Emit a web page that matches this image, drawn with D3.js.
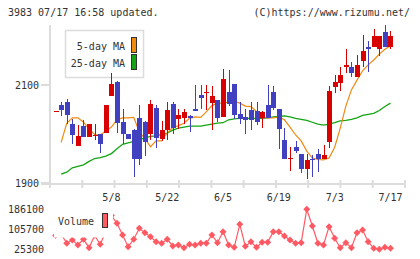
<!DOCTYPE html>
<html>
<head>
<meta charset="utf-8">
<script src="https://cdn.jsdelivr.net/npm/d3@7"></script>
<style>
  body { margin: 0; background: #fff; }
  text { font-family: "DejaVu Sans Mono", monospace; font-size: 10px; fill: #333; }
</style>
</head>
<body>
<div id="chart"></div>
<script>
// Trading days shown (2015)
const dates = ["4/20","4/21","4/22","4/23","4/24","4/27","4/28","4/30","5/1","5/7",
  "5/8","5/11","5/12","5/13","5/14","5/15","5/18","5/19","5/20","5/21",
  "5/22","5/25","5/26","5/27","5/28","5/29","6/1","6/2","6/3","6/4",
  "6/5","6/8","6/9","6/10","6/11","6/12","6/15","6/16","6/17","6/18",
  "6/19","6/22","6/23","6/24","6/25","6/26","6/29","6/30","7/1","7/2",
  "7/3","7/6","7/7","7/8","7/9","7/10","7/13","7/14","7/15","7/16","7/17"];
const labelDates = ["5/8","5/22","6/5","6/19","7/3","7/17"];

const open  = [2047,2059,2065,2020,1976,2016,1993,1995,1999,2003,2078,2107,2024,1999,2008,2032,2025,2001,2054,1990,
  2008,2061,2030,2033,2037,2051,2080,2084,2064,2069,2035,2086,2102,2041,2035,2050,2047,2033,2059,2086,
  2051,1988,1950,1974,1959,1929,1949,1959,1949,1984,2095,2105,2136,2136,2117,2148,2177,2177,2173,2208,2177];
const high  = [2047,2066,2071,2030,2018,2029,2020,2020,1999,2059,2124,2108,2051,1999,2011,2059,2027,2069,2059,2027,
  2066,2066,2051,2052,2039,2100,2100,2099,2098,2069,2133,2131,2102,2065,2052,2065,2065,2046,2100,2098,
  2051,2013,1974,1986,1959,1959,1957,1969,1978,2098,2120,2136,2173,2146,2161,2202,2190,2214,2200,2222,2210];
const low   = [2047,2037,2020,1980,1976,1993,1993,1987,1962,2003,2078,2003,1980,1989,1912,1937,1956,1988,1972,1986,
  1988,2001,2010,2020,2005,2046,2051,2049,2008,2025,2035,2057,2030,2020,2000,2008,2018,2013,2033,2049,
  1969,1950,1925,1961,1921,1908,1912,1923,1949,1972,2084,2088,2124,2116,2117,2137,2126,2177,2159,2178,2173];
const close = [2047,2048,2039,1997,1996,1993,2020,1997,1980,2059,2103,2022,1999,1989,1950,1948,1984,2061,1991,2008,
  2049,2013,2039,2044,2033,2046,2074,2086,2078,2033,2112,2061,2039,2031,2029,2029,2025,2044,2033,2054,
  2010,1950,1952,1966,1929,1947,1946,1949,1957,2088,2107,2120,2141,2125,2141,2169,2173,2199,2200,2178,2199];

const ma5 = [null,1983,2022,2033,2033,2024,2010,1999,1998,2006,2014,2029,2033,2033,2034,2004,1991,1974,1986,1986,
  2002,2013,2017,2022,2032,2035,2034,2045,2058,2063,2063,2065,2067,2063,2057,2056,2046,2035,2033,2033,
  2035,2029,2014,1998,1986,1965,1951,1948,1947,1951,1973,2012,2057,2090,2110,2129,2141,2151,2163,2173,2180];
const ma25 = [null,1918,1922,1931,1934,1937,1944,1950,1952,1955,1960,1970,1979,1982,1985,1988,1992,1995,1996,1999,
  2002,2008,2012,2014,2016,2016,2016,2018,2020,2022,2023,2029,2031,2032,2032,2032,2032,2032,2033,2035,
  2036,2037,2035,2032,2030,2028,2024,2020,2018,2020,2023,2027,2028,2030,2033,2038,2040,2042,2048,2056,2063];

const volume = [80000,85000,48200,61500,41400,64300,30500,80000,44200,95000,160000,128600,81600,34600,64300,108500,90800,74800,54600,48200,
  64300,37400,41400,30500,44200,41400,48200,48200,81600,50600,94800,41400,32100,124600,36000,54600,32100,52200,52200,94800,
  94800,77600,61500,48200,50600,184900,117800,48200,41400,115000,68300,30500,50600,30500,90800,101700,54600,28100,24100,32100,28100];

const priceTicks = [1900, 2100];
const volumeTicks = [25300, 105700, 186100];

const W = 420, H = 259;
const svg = d3.select("#chart").append("svg")
  .attr("width", W).attr("height", H);

const idx = d3.range(dates.length);
const x = d3.scaleLinear().domain([-1, 62.6]).range([50, 405]);
const gridX = d3.scaleLinear().domain([0, 11]).range([50, 405]);
const y = d3.scaleLinear().domain([1900, 2100]).range([183, 85]);
const yv = d3.scaleLinear().domain([25300, 186100]).range([249, 209]);

const red = "#d90000", blue = "#4040c0";
const orange = "#f08a10", green = "#14a514", volColor = "#ff5a64";
const axisColor = "#dcdcdc";

// header
svg.append("text").attr("x", 8).attr("y", 16).text("3983 07/17 16:58 updated.");
svg.append("text").attr("x", 410).attr("y", 16).attr("text-anchor", "end").text("(C)https://www.rizumu.net/");

// price legend (behind the candles)
const lg = svg.append("g").attr("transform", "translate(65,30)");
lg.append("rect").attr("x", 0.5).attr("y", 0.5).attr("width", 78).attr("height", 47)
  .attr("fill", "#fff").attr("stroke", axisColor).attr("stroke-width", 1.5);
[["5-day MA", orange], ["25-day MA", green]].forEach(([name, c], i) => {
  lg.append("text").attr("x", 60).attr("y", 20 + i * 17).attr("text-anchor", "end").text(name);
  lg.append("rect").attr("x", 66.5).attr("y", 7.5 + i * 17).attr("width", 5).attr("height", 15)
    .attr("fill", c).attr("stroke", "#333").attr("stroke-width", 1);
});

// axes
const ax = svg.append("g").attr("stroke", axisColor).attr("stroke-width", 2);
ax.append("line").attr("x1", 50).attr("x2", 50).attr("y1", 25).attr("y2", 188);
ax.append("line").attr("x1", 41).attr("x2", 405).attr("y1", 184).attr("y2", 184);
ax.selectAll(".gt").data(d3.range(12)).enter().append("line")
  .attr("x1", d => gridX(d)).attr("x2", d => gridX(d)).attr("y1", 180).attr("y2", 188);
ax.selectAll(".yt").data(priceTicks).enter().append("line")
  .attr("x1", 41).attr("x2", 50).attr("y1", d => y(d)).attr("y2", d => y(d));

svg.selectAll(".ylab").data(priceTicks).enter().append("text")
  .attr("x", 39).attr("y", d => y(d) + 4).attr("text-anchor", "end").text(d => d);

svg.selectAll(".xlab").data(idx.filter(i => labelDates.includes(dates[i]))).enter().append("text")
  .attr("x", i => x(i)).attr("y", 201).attr("text-anchor", "middle").text(i => dates[i]);

// moving averages
const maLine = arr => d3.line()
  .defined(i => arr[i] != null)
  .x(i => x(i)).y(i => y(arr[i]))(idx);
svg.append("path").attr("d", maLine(ma25)).attr("fill", "none").attr("stroke", green).attr("stroke-width", 1.3);
svg.append("path").attr("d", maLine(ma5)).attr("fill", "none").attr("stroke", orange).attr("stroke-width", 1.2);

// candles
const cg = svg.append("g").attr("shape-rendering", "crispEdges");
const candle = cg.selectAll(".c").data(idx).enter().append("g");
candle.append("rect")
  .attr("x", i => Math.round(x(i)))
  .attr("width", 1)
  .attr("y", i => y(high[i]))
  .attr("height", i => Math.max(1, y(low[i]) - y(high[i])))
  .attr("fill", i => close[i] >= open[i] ? red : blue);
candle.append("rect")
  .attr("x", i => Math.round(x(i)) - 2)
  .attr("width", 5)
  .attr("y", i => y(Math.max(open[i], close[i])))
  .attr("height", i => Math.max(1, Math.abs(y(open[i]) - y(close[i]))))
  .attr("fill", i => close[i] >= open[i] ? red : blue);

// volume
svg.selectAll(".vlab").data(volumeTicks).enter().append("text")
  .attr("x", 44).attr("y", d => yv(d) + 4).attr("text-anchor", "end").text(d => d);
svg.append("path")
  .attr("d", d3.line().x(i => x(i)).y(i => yv(volume[i]))(idx))
  .attr("fill", "none").attr("stroke", volColor).attr("stroke-width", 1.2);
svg.selectAll(".vm").data(idx).enter().append("path")
  .attr("d", d3.symbol(d3.symbolSquare, 24))
  .attr("transform", i => `translate(${x(i)},${yv(volume[i])}) rotate(45)`)
  .attr("fill", volColor);

// volume legend (white box over the series)
svg.append("rect").attr("x", 54).attr("y", 204).attr("width", 59).attr("height", 33.5).attr("fill", "#fff");
svg.append("text").attr("x", 58).attr("y", 225).text("Volume");
svg.append("rect").attr("x", 102.5).attr("y", 213.5).attr("width", 5).attr("height", 14)
  .attr("fill", volColor).attr("stroke", "#333").attr("stroke-width", 1);
</script>
</body>
</html>
